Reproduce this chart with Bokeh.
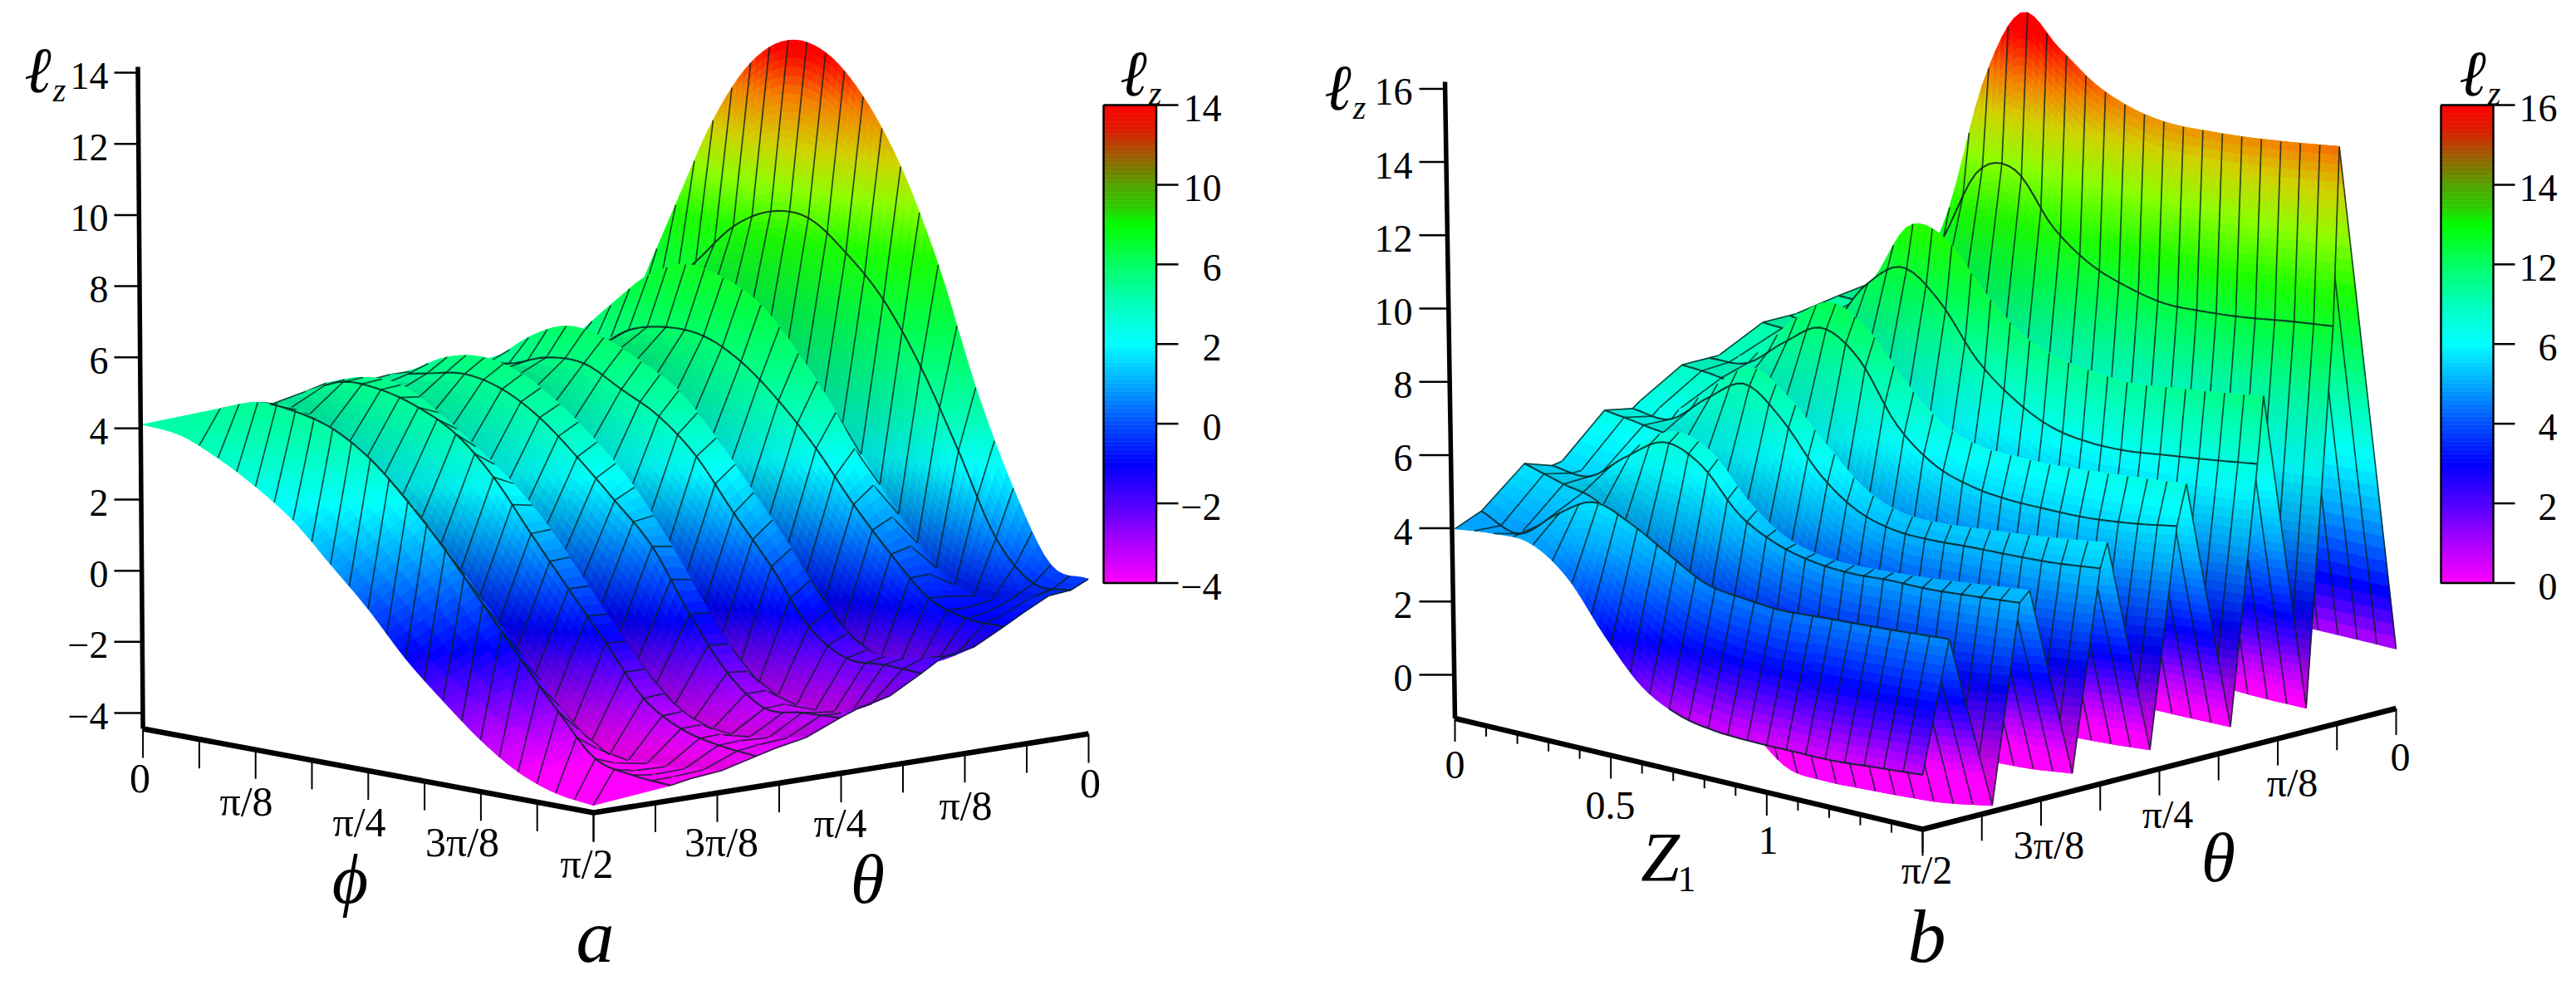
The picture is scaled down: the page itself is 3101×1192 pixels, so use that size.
import numpy as np
from bokeh.plotting import figure
from bokeh.embed import file_html
from bokeh.resources import INLINE

# ---------- panel a: lz, at 13 phi positions ----------
a_phi = [0, .083, .167, .25, .333, .417, .5, .583, .667, .75, .833, .917, 1]
a_front = [4.0, 3.9, 3.45, 2.85, 2.1, 1.05, 0.0, -1.2, -2.2, -3.1, -3.8, -4.2, -4.35]
a_arc1 = [4.1, 4.47, 4.41, 4.12, 3.47, 2.46, 1.3, -.02, -1.37, -2.64, -3.78, -4.05, -4.14]
a_top1 = [4.1, 4.34, 4.12, 3.63, 2.8, 1.71, .51, -.75, -2.04, -3.23, -3.99, -4.12, -4.04]
a_low1 = [4.0, 3.9, 3.2, 2.6, 1.6, .2, -1.1, -2.3, -3.5, -4.1, -4.15, -4.1, -3.95]
a_arc2 = [4.2, 4.67, 4.64, 4.34, 3.79, 2.77, 1.38, .03, -1.31, -2.66, -3.32, -3.59, -3.7]
a_top2 = [4.34, 4.7, 4.69, 4.11, 3.35, 2.5, 1.41, .02, -1.36, -2.63, -3.3, -3.56, -3.56]
a_low2 = [4.2, 4.1, 3.7, 3.0, 2.1, 1.0, -.2, -1.5, -2.7, -3.5, -3.7, -3.6, -3.4]
a_arc3 = [4.3, 4.53, 4.71, 4.48, 3.88, 2.96, 1.94, .85, -.87, -2.31, -3.12, -3.05, -3.0]
a_top3 = [4.29, 4.89, 5.08, 4.81, 4.17, 3.29, 2.22, .76, -.91, -2.37, -3.09, -3.24, -2.8]
a_low3 = [4.2, 4.4, 4.4, 3.8, 2.9, 1.6, .2, -1.1, -2.5, -3.2, -3.4, -3.2, -2.6]
a_arc4 = [4.4, 4.44, 4.81, 4.84, 4.31, 3.74, 2.81, 1.42, .1, -1.39, -2.08, -2.07, -2.11]
a_top4 = [4.16, 5.08, 5.6, 5.47, 4.99, 4.37, 3.24, 1.91, .52, -1.01, -1.94, -1.97, -1.77]
a_low4 = [4.3, 4.6, 4.9, 4.7, 3.9, 2.9, 1.6, .2, -1.1, -2.2, -2.5, -2.2, -1.6]
a_arc5 = [4.5, 4.47, 5.21, 5.49, 5.44, 4.91, 4.01, 2.87, 1.48, .28, -.75, -1.13, -1.17]
a_top5 = [4.5, 5.62, 6.66, 7.16, 6.98, 6.41, 5.25, 3.79, 1.93, .42, -.79, -1.06, -.86]
a_low5 = [4.6, 5.4, 5.8, 6.1, 5.6, 4.9, 3.9, 2.5, 1.0, -.3, -.9, -.8, -.5]
a_arc6 = [4.8, 5.76, 6.84, 8.02, 8.64, 8.65, 7.87, 6.75, 5.04, 2.89, .64, -.45, -.44]
a_top6 = [5.5, 8.14, 10.74, 12.54, 13.37, 13.22, 12.18, 10.42, 7.83, 4.59, 1.96, -.01, -.21]
a_theta = [0, .156, .196, .26, .329, .369, .43, .498, .538, .6, .663, .703, .77, .829, .869, .92, .965, 1]

# ---------- panel b ----------
b_z1 = [0, .08, .16, .24, .32, .4, .48, .56, .64, .72, .8, .9, 1]
b_front = [4.0, 4.12, 4.1, 3.4, 2.05, .9, .35, .15, .1, .1, .1, .2, .3]
b_arc1 = [4.3, 3.92, 4.69, 5.27, 4.92, 4.33, 3.77, 3.61, 3.53, 3.59, 3.65, 3.73, 3.83]
b_low1 = [5.3, 5.0, 4.7, 3.6, 2.2, .8, -.4, -1.3, -1.43, -1.4, -1.35, -1.25, -1.02]
b_arc2 = [5.05, 5.0, 5.79, 6.42, 6.02, 4.93, 4.37, 4.11, 4.04, 4.1, 4.11, 4.21, 4.33]
b_top2 = [5.1, 5.0, 5.99, 6.64, 6.31, 5.2, 4.46, 4.18, 4.15, 4.21, 4.3, 4.44, 4.6]
b_low2 = [6.2, 6.05, 5.8, 4.8, 3.2, 1.6, .2, -.7, -.85, -.9, -.9, -.85, -.7]
b_arc3 = [6.05, 6.0, 6.82, 7.45, 6.71, 5.48, 4.72, 4.42, 4.39, 4.45, 4.49, 4.56, 4.71]
b_top3 = [6.2, 6.2, 7.11, 7.85, 7.25, 6.22, 5.28, 4.85, 4.81, 4.9, 5.01, 5.17, 5.36]
b_low3 = [6.9, 6.8, 6.5, 5.6, 3.8, 2.0, .5, -.6, -.7, -.75, -.75, -.7, -.6]
b_arc4 = [6.9, 7.0, 7.81, 8.45, 7.84, 6.3, 5.45, 5.09, 4.96, 4.95, 4.97, 5.11, 5.33]
b_top4 = [6.9, 7.2, 8.37, 9.07, 8.56, 7.38, 6.48, 6.11, 6.06, 6.07, 6.16, 6.28, 6.42]
b_low4 = [7.5, 7.4, 7.0, 5.9, 4.2, 2.4, .8, -.4, -.5, -.55, -.55, -.55, -.53]
b_arc5 = [7.5, 7.4, 8.79, 9.55, 8.86, 7.51, 6.66, 6.14, 5.97, 5.98, 6.11, 6.28, 6.47]
b_top5 = [7.5, 7.6, 8.79, 10.62, 10.52, 9.36, 8.44, 8.0, 7.84, 7.78, 7.91, 8.08, 8.29]
b_low5 = [7.7, 7.7, 7.8, 7.0, 5.3, 3.0, 1.0, -.3, -.45, -.5, -.5, -.55, -.55]
b_arc6 = [7.8, 7.9, 9.44, 11.64, 11.92, 10.62, 9.84, 9.45, 9.24, 9.27, 9.36, 9.55, 9.71]
b_top6 = [7.8, 8.0, 10.12, 14.07, 16.18, 15.46, 14.69, 14.27, 14.11, 14.15, 14.23, 14.39, 14.58]
b_back = [8.0, 8.0, 8.2, 7.5, 5.8, 3.6, 1.5, .5, .45, .45, .45, .45, .44]
b_theta = [0, .056, .147, .205, .226, .316, .375, .39, .48, .537, .557, .65, .707, .72, .81, .867, .88, 1]

# tick labels
a_z_ticks = [14, 12, 10, 8, 6, 4, 2, 0, -2, -4]
b_z_ticks = [16, 14, 12, 10, 8, 6, 4, 2, 0]
a_bar_labels = ["14", "10", "6", "2", "0", "\u22122", "\u22124"]
b_bar_labels = ["16", "14", "12", "6", "4", "2", "0"]

# colour scales: level -> colour
a_levels = [-3.9, -3.0, -2.0, -1.1, 0, 1.2, 2.4, 4, 6, 8, 9.3, 10.5, 11.8, 13.1]
b_levels = [-.3, .5, 1.2, 2.0, 3.0, 4.2, 5.7, 7.5, 9, 10.5, 12, 13.3, 14.3, 15.6]
surf_red = [255, 180, 90, 0, 0, 0, 0, 0, 0, 30, 140, 210, 245, 255]
surf_green = [0, 0, 0, 0, 80, 170, 255, 255, 255, 255, 255, 210, 130, 0]
surf_blue = [255, 255, 255, 255, 255, 255, 255, 170, 80, 0, 0, 0, 0, 0]
bar_pos = [0, .054, .1, .167, .21, .252, .334, .419, .5, .585, .666, .75, .833, .915, 1]
bar_red = [255, 220, 165, 85, 50, 0, 0, 0, 0, 0, 0, 0, 80, 170, 255]
bar_green = [0, 30, 85, 160, 200, 255, 255, 255, 255, 170, 80, 0, 0, 0, 0]
bar_blue = [0, 0, 0, 0, 0, 0, 100, 190, 255, 255, 255, 255, 255, 255, 255]

SERIF = "Liberation Serif"
p = figure(width=3085, height=1176, x_range=(8, 3093), y_range=(1184, 8),
           output_backend="svg", toolbar_location=None, min_border=0,
           background_fill_color="white", border_fill_color="white", outline_line_color=None)
p.axis.visible = False
p.grid.visible = False


def hexcol(r, g, b):
    return "#%02x%02x%02x" % (int(r), int(g), int(b))


def smooth(ux, z, uf):
    ux = np.asarray(ux, float)
    z = np.asarray(z, float)
    m = np.gradient(z, ux)
    i = np.clip(np.searchsorted(ux, uf, side="right") - 1, 0, len(ux) - 2)
    h = ux[i + 1] - ux[i]
    t = (uf - ux[i]) / h
    return ((2*t**3 - 3*t**2 + 1)*z[i] + (t**3 - 2*t**2 + t)*h*m[i]
            + (-2*t**3 + 3*t**2)*z[i + 1] + (t**3 - t**2)*h*m[i + 1])


def surface(ux, vs, rows, geo, levels, black, shaded, shear=None):
    shear = shear or {}
    x0, ax, bx, y0, ay, by, zf, zs = geo
    NU = 72
    uf = np.linspace(0, 1, NU + 1)
    Z = np.array([smooth(ux, r, uf) for r in rows])

    def prj(u, v, z):
        return x0 + ax*u + bx*v, y0 + ay*u + by*v - (z - zf)*zs

    def col(z, f=1.0):
        return hexcol(f*np.interp(z, levels, surf_red), f*np.interp(z, levels, surf_green),
                      f*np.interp(z, levels, surf_blue))

    def heavy(k):
        lo, hi = black[k]
        mask = (uf >= lo) & (uf <= hi)
        x, y = prj(uf[mask], vs[k], Z[k, mask])
        p.line(x, y, line_color="#06231f", line_alpha=.85, line_width=2.1)

    for k in range(len(vs) - 2, -1, -1):
        xs, ys, cs = [], [], []
        for j in range(NU):
            u1, u2 = uf[j], uf[j + 1]
            zf1, zf2, zb1, zb2 = Z[k, j], Z[k, j + 1], Z[k + 1, j], Z[k + 1, j + 1]
            n = int(np.clip(np.ceil(max(abs(zb1 - zf1), abs(zb2 - zf2)) / .25), 1, 40))
            for s in range(n - 1, -1, -1):
                t1, t2 = s / n, (s + 1) / n
                v1 = vs[k] + (vs[k + 1] - vs[k])*t1
                v2 = vs[k] + (vs[k + 1] - vs[k])*t2
                za = zf1 + (zb1 - zf1)*t1
                zb = zf2 + (zb2 - zf2)*t1
                zc = zf2 + (zb2 - zf2)*t2
                zd = zf1 + (zb1 - zf1)*t2
                pts = [prj(u1, v1, za), prj(u2, v1, zb), prj(u2, v2, zc), prj(u1, v2, zd)]
                xs.append([q[0] for q in pts])
                ys.append([q[1] for q in pts])
                f = .85 + .15*(t1 + t2)/2 if k in shaded else 1.0
                cs.append(col((za + zb + zc + zd) / 4, f))
        p.patches(xs, ys, fill_color=cs, line_color=cs, line_width=1.1)
        # constant-u mesh lines on this strip
        lx, ly = [], []
        off = int(round(shear.get(k, 0) * NU / 3)) * 3
        for j in range(0, NU + 1, 3):
            if j + off > NU:
                continue
            a = prj(uf[j + off], vs[k], Z[k, j + off])
            b = prj(uf[j], vs[k + 1], Z[k + 1, j])
            lx.append([a[0], b[0]])
            ly.append([a[1], b[1]])
        p.multi_line(lx, ly, line_color="#06231f", line_alpha=.8, line_width=1.7)
        # heavier lines along the rows: above the strip that shares them
        if k + 1 in black:
            heavy(k + 1)
        if k == 0 and 0 in black:
            heavy(0)


geo_a = (179.6, 542, 596, 885, 101, -95, -4.56, 42.8)
rows_a = [a_front, a_arc1, a_top1, a_low1, a_arc2, a_top2, a_low2, a_arc3, a_top3, a_low3,
          a_arc4, a_top4, a_low4, a_arc5, a_top5, a_low5, a_arc6, a_top6]
black_a = {1: (.1, 1), 4: (.04, 1), 7: (.04, 1), 10: (.04, 1), 13: (.04, 1), 16: (.1, 1)}
surface(a_phi, a_theta, rows_a, geo_a, a_levels, black_a, {3, 6, 9, 12, 15}, shear={0: .125})

geo_b = (1759, 563, 570, 872.5, 133.5, -145.5, -1.19, 44)
rows_b = [b_front, b_arc1, b_low1, b_arc2, b_top2, b_low2, b_arc3, b_top3, b_low3,
          b_arc4, b_top4, b_low4, b_arc5, b_top5, b_low5, b_arc6, b_top6, b_back]
black_b = {0: (.45, 1), 1: (0, 1), 2: (0, .2), 3: (0, 1), 5: (0, .2), 6: (0, 1), 8: (0, .2),
           9: (0, 1), 11: (0, .2), 12: (0, 1), 14: (0, .2), 15: (0, 1)}
surface(b_z1, b_theta, rows_b, geo_b, b_levels, black_b, {2, 5, 8, 11, 14})


def label(x, y, t, size, style="normal", align="center", font=SERIF):
    p.text([x], [y], text=[t], text_font=font, text_font_size=f"{size}px", text_font_style=style,
           text_align=align, text_baseline="middle", text_color="black")


def zaxis(ticks, y_of, top, bot, right_x, tick_x):
    p.line([top[0], bot[0]], [top[1], bot[1]], line_color="black", line_width=5.5)
    for z in ticks:
        y = y_of(z)
        xa = top[0] + (bot[0] - top[0]) * (y - top[1]) / (bot[1] - top[1])
        p.line([tick_x, xa], [y, y], line_color="black", line_width=2.5)
        label(right_x, y + 4, str(z).replace("-", "\u2212"), 46, align="right")


def floor_axis(a, b, n, lens):
    p.line([a[0], b[0]], [a[1], b[1]], line_color="black", line_width=6.5)
    for i in range(n + 1):
        x = a[0] + (b[0] - a[0]) * i / n
        y = a[1] + (b[1] - a[1]) * i / n
        p.line([x, x], [y, y + lens[i]], line_color="black", line_width=2)


def colorbar(x0, x1, labels, tick_end, label_x):
    top, bot = 134, 709.5
    n = 115
    e = np.linspace(0, 1, n + 1)
    m = (e[:-1] + e[1:]) / 2
    cs = [hexcol(np.interp(f, bar_pos, bar_red), np.interp(f, bar_pos, bar_green),
                 np.interp(f, bar_pos, bar_blue)) for f in m]
    p.quad(left=x0, right=x1, top=top + e[:-1]*(bot - top), bottom=top + e[1:]*(bot - top),
           fill_color=cs, line_color=cs, line_width=.6)
    p.line([x0, x1, x1, x0, x0], [top, top, bot, bot, top], line_color="black", line_width=2.5)
    for i, t in enumerate(labels):
        y = top + (bot - top) * i / (len(labels) - 1)
        p.line([x1, tick_end], [y, y], line_color="black", line_width=2.5)
        label(label_x, y + 4, t, 46, align="right")


def lz(x, y):
    label(x, y, "\u2113", 78, "italic", font="Open Sans")
    label(x + 26, y + 24, "z", 40, "italic")


# panel a furniture
zaxis(a_z_ticks, lambda z: 866 - (z + 4) * 42.83, (173.5, 88), (179.6, 885), 138, 145)
floor_axis((179.6, 885), (722, 986), 8, [35] * 9)
floor_axis((1318, 891), (722, 986), 8, [35] * 9)
colorbar(1336, 1399.5, a_bar_labels, 1426, 1478)
lz(53, 92)
lz(1372, 96)
for x, y, t in [(176, 945, "0"), (304, 972, "\u03c0/8"), (440, 997, "\u03c0/4"), (564, 1021, "3\u03c0/8"),
                (714, 1047, "\u03c0/2"), (876, 1021, "3\u03c0/8"), (1019, 998, "\u03c0/4"),
                (1170, 977, "\u03c0/8"), (1320, 951, "0")]:
    label(x, y, t, 50)
label(429, 1066, "\u03d5", 84, "italic")
label(1052, 1066, "\u03b8", 84, "italic")
label(724, 1134, "a", 92, "italic")

# panel b furniture
zaxis(b_z_ticks, lambda z: 820 - z * 44.1, (1747, 106), (1759, 872.5), 1708, 1716)
floor_axis((1759, 872.5), (2322, 1006), 15, [28 if i % 5 == 0 else 13 for i in range(16)])
floor_axis((2892, 860.5), (2322, 1006), 8, [32] * 9)
colorbar(2946, 3009, b_bar_labels, 3035, 3086)
lz(1618, 113)
lz(2984, 96)
for x, y, t in [(1759, 928, "0"), (1946, 977, "0.5"), (2136, 1019, "1"), (2327, 1055, "\u03c0/2"),
                (2474, 1025, "3\u03c0/8"), (2617, 988, "\u03c0/4"), (2767, 950, "\u03c0/8"), (2897, 919, "0")]:
    label(x, y, t, 48)
label(2006, 1040, "Z", 84, "italic")
label(2038, 1066, "1", 44)
label(2678, 1040, "\u03b8", 84, "italic")
label(2327, 1134, "b", 92, "italic")

open("out.html", "w").write(file_html(p, INLINE))
